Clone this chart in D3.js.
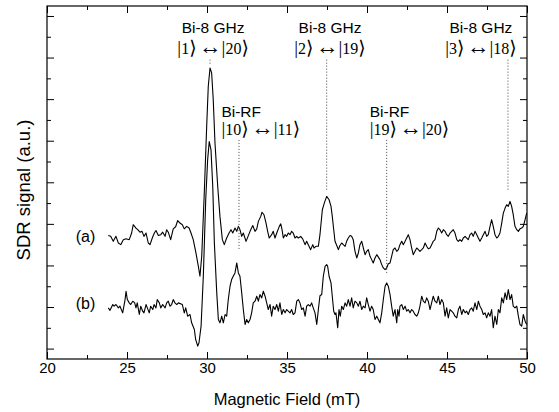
<!DOCTYPE html>
<html>
<head>
<meta charset="utf-8">
<script src="https://cdn.jsdelivr.net/npm/d3@7.9.0/dist/d3.min.js"></script>
<style>
  body { margin: 0; background: #fff; }
  svg { display: block; }
</style>
</head>
<body>
<svg id="chart"></svg>
<script>
// Trace (a): field in mT, signal in arbitrary units
const fieldA = [23.83,23.98,24.14,24.31,24.46,24.61,24.77,24.94,25.14,25.29,25.39,25.56,25.67,25.81,25.94,26.06,26.19,26.33,26.44,26.58,26.71,26.81,26.96,27.11,27.23,27.38,27.48,27.58,27.73,27.89,28.04,28.17,28.31,28.46,28.58,28.73,28.88,29.00,29.14,29.29,29.46,29.56,29.67,29.83,29.98,30.08,30.19,30.29,30.39,30.50,30.67,30.81,30.96,31.08,31.23,31.38,31.50,31.61,31.75,31.86,31.96,32.06,32.17,32.27,32.44,32.69,32.86,33.00,33.11,33.21,33.36,33.44,33.56,33.69,33.79,33.89,34.04,34.14,34.25,34.36,34.52,34.61,34.69,34.77,34.88,34.98,35.08,35.19,35.29,35.39,35.50,35.61,35.71,35.86,35.98,36.13,36.23,36.33,36.48,36.61,36.69,36.81,36.96,37.06,37.13,37.21,37.33,37.48,37.63,37.75,37.83,37.92,38.00,38.11,38.21,38.31,38.42,38.52,38.63,38.73,38.83,38.94,39.04,39.14,39.25,39.36,39.46,39.56,39.67,39.77,39.88,39.98,40.08,40.19,40.29,40.39,40.50,40.61,40.71,40.81,40.92,41.02,41.13,41.23,41.33,41.44,41.54,41.64,41.75,41.86,41.96,42.06,42.17,42.27,42.38,42.48,42.58,42.69,42.79,42.89,43.00,43.11,43.21,43.31,43.42,43.52,43.63,43.73,43.83,43.94,44.04,44.14,44.25,44.36,44.46,44.56,44.67,44.77,44.88,44.98,45.08,45.19,45.29,45.39,45.50,45.61,45.71,45.81,45.92,46.02,46.13,46.23,46.33,46.44,46.54,46.64,46.75,46.86,46.96,47.06,47.17,47.27,47.38,47.48,47.58,47.69,47.79,47.89,48.00,48.11,48.21,48.31,48.42,48.52,48.63,48.73,48.83,48.94,49.04,49.14,49.25,49.36,49.46,49.56,49.67,49.77,49.88,49.98];
const signalA = [27.2,27.0,25.8,27.0,25.4,25.0,26.2,26.4,26.2,27.8,29.8,29.0,28.6,28.0,28.2,27.0,27.8,25.4,25.0,26.6,27.8,28.4,27.2,27.4,28.0,27.0,28.6,28.0,26.2,28.8,29.3,30.8,30.2,29.8,28.8,29.4,29.0,27.8,26.2,23.4,19.8,17.4,22.2,37.4,53.4,63.1,67.5,66.3,59.9,49.4,39.0,31.8,26.2,25.0,26.6,27.8,28.6,27.8,29.0,28.2,29.4,28.6,27.0,27.8,25.8,28.2,29.6,28.2,28.8,30.6,31.8,32.8,32.2,30.2,28.2,26.6,27.4,28.2,26.6,27.8,29.4,30.0,28.6,26.6,27.4,27.0,27.8,27.4,28.2,27.8,26.6,27.0,26.6,27.0,26.4,25.0,25.8,25.0,23.8,25.0,24.2,24.6,24.6,27.4,30.2,33.4,35.0,36.6,35.8,34.2,31.8,28.6,25.8,24.8,23.8,24.8,25.4,25.0,24.6,25.8,26.6,27.2,27.0,26.2,23.4,21.8,23.0,25.0,25.8,24.2,22.6,23.4,23.8,22.2,21.4,20.6,21.8,22.6,22.0,21.4,20.2,19.4,19.0,19.4,20.4,20.6,22.2,23.8,24.2,23.4,23.8,25.0,25.8,25.0,25.8,26.6,27.4,26.2,24.2,22.6,23.4,24.2,23.8,23.4,23.8,24.2,25.4,24.6,24.0,24.2,25.0,25.8,26.2,28.2,29.0,28.6,27.8,28.6,28.2,27.4,27.0,27.8,28.2,28.6,27.8,26.2,25.8,26.2,25.8,26.6,27.0,26.6,26.2,27.4,27.8,27.0,28.2,27.4,26.6,25.8,26.6,27.4,28.2,27.0,27.4,29.4,31.0,29.4,27.4,26.6,27.0,27.8,30.2,32.6,33.8,34.6,34.2,35.4,34.2,32.2,29.4,28.6,28.2,28.8,29.0,29.4,31.0,32.6];

// Trace (b)
const fieldB = [23.83,23.94,24.11,24.19,24.31,24.46,24.56,24.73,24.88,24.94,25.02,25.14,25.23,25.36,25.48,25.56,25.64,25.77,25.86,25.98,26.06,26.19,26.27,26.39,26.48,26.61,26.69,26.81,26.89,27.02,27.11,27.23,27.38,27.48,27.58,27.69,27.79,27.89,28.00,28.11,28.21,28.46,28.58,28.67,28.79,28.94,29.04,29.21,29.29,29.42,29.50,29.63,29.77,29.92,30.04,30.14,30.25,30.36,30.46,30.61,30.71,30.81,30.92,31.02,31.13,31.23,31.33,31.44,31.54,31.64,31.75,31.86,31.96,32.06,32.17,32.27,32.38,32.48,32.58,32.69,32.79,32.89,33.00,33.11,33.21,33.31,33.42,33.52,33.63,33.73,33.83,33.94,34.04,34.14,34.25,34.36,34.46,34.56,34.67,34.77,34.88,34.98,35.08,35.19,35.29,35.39,35.50,35.61,35.71,35.81,35.92,36.02,36.13,36.23,36.33,36.44,36.54,36.64,36.75,36.86,36.96,37.06,37.17,37.27,37.38,37.48,37.54,37.63,37.75,37.83,37.92,38.00,38.06,38.17,38.25,38.33,38.42,38.52,38.63,38.73,38.83,38.94,39.04,39.14,39.25,39.36,39.46,39.56,39.67,39.77,39.88,39.98,40.08,40.19,40.29,40.39,40.50,40.61,40.71,40.81,40.92,41.02,41.13,41.23,41.33,41.44,41.54,41.64,41.75,41.86,41.92,42.00,42.06,42.17,42.27,42.38,42.48,42.58,42.69,42.79,42.89,43.00,43.11,43.21,43.31,43.42,43.52,43.63,43.73,43.83,43.94,44.04,44.14,44.25,44.36,44.46,44.56,44.67,44.77,44.88,44.98,45.08,45.19,45.29,45.39,45.50,45.61,45.71,45.81,45.92,46.02,46.13,46.23,46.33,46.44,46.54,46.64,46.75,46.86,46.96,47.06,47.17,47.27,47.38,47.48,47.58,47.69,47.79,47.89,48.00,48.11,48.21,48.31,48.42,48.52,48.63,48.73,48.83,48.94,49.04,49.14,49.25,49.36,49.46,49.56,49.67,49.77,49.88,49.98];
const signalB = [9.8,9.2,10.6,10.2,10.6,9.8,10.2,8.6,11.8,13.8,11.8,11.0,10.6,11.4,11.0,9.8,11.0,8.2,10.2,9.0,8.6,10.6,9.8,8.6,10.2,9.4,10.6,9.8,11.8,11.0,9.8,10.6,9.8,11.0,11.4,10.2,10.6,11.8,11.0,10.6,11.0,10.6,8.6,9.8,7.8,8.2,6.2,4.6,2.2,0.6,1.4,5.4,17.4,35.8,45.4,49.8,47.8,39.0,25.4,13.4,7.0,6.2,7.8,6.2,8.2,7.8,11.8,15.0,16.6,17.4,18.2,20.6,18.2,17.4,13.4,9.4,5.8,7.0,6.2,7.0,8.6,11.0,11.4,12.6,11.4,13.0,12.2,13.8,12.6,11.0,9.4,10.6,7.8,10.2,9.4,10.6,9.0,11.0,8.2,9.4,8.6,9.4,9.0,8.6,9.4,8.2,8.6,11.4,11.8,11.0,9.4,9.8,7.8,10.2,10.6,10.2,11.0,9.8,8.6,5.8,9.4,12.7,13.0,17.4,19.8,20.2,19.8,17.4,15.8,12.6,9.0,8.2,8.6,5.0,9.4,7.8,10.2,9.4,11.0,10.2,11.8,10.2,12.2,9.8,11.4,11.0,10.2,11.4,9.4,10.2,9.8,12.2,10.6,9.0,10.2,9.4,7.0,7.8,7.0,6.2,8.6,11.8,15.0,15.8,15.0,13.0,10.2,7.8,9.4,6.2,9.4,7.8,10.2,10.6,9.4,10.2,9.0,9.4,8.6,9.4,9.0,8.2,7.8,8.6,10.2,12.6,11.4,11.0,12.2,11.4,9.4,11.0,12.6,11.4,11.0,12.6,10.6,11.8,11.0,7.8,9.8,7.4,9.4,9.0,8.6,7.8,7.4,9.4,10.2,8.2,9.4,8.6,9.0,8.2,9.4,9.8,9.0,11.0,9.4,11.4,10.2,9.4,8.2,8.6,7.4,8.6,7.8,9.4,5.0,7.8,5.8,9.4,8.6,12.2,11.0,13.4,11.8,14.2,11.8,13.0,10.2,9.8,10.2,7.8,5.8,5.4,8.2,6.6,5.8];

const xMajor = [20, 25, 30, 35, 40, 45, 50];
const xMinor = [22.5, 27.5, 32.5, 37.5, 42.5, 47.5];
const yMajor = [0, 10, 20, 30, 40, 50, 60, 70, 80];
const yMinor = [5, 15, 25, 35, 45, 55, 65, 75];

// Transition labels: field of the line, kets, line span in signal units
const transitions = [
  { name: "Bi-8 GHz", ket: ["1", "20"], field: 30.19, lineTop: 69.5, lineBottom: 68.2, textX: 30.38, anchor: "middle", nameY: 76.0, ketY: 70.9 },
  { name: "Bi-RF", ket: ["10", "11"], field: 32.0, lineTop: 50.2, lineBottom: 23.8, textX: 30.90, anchor: "start", nameY: 55.8, ketY: 51.4 },
  { name: "Bi-8 GHz", ket: ["2", "19"], field: 37.48, lineTop: 69.5, lineBottom: 38.2, textX: 37.69, anchor: "middle", nameY: 76.0, ketY: 70.9 },
  { name: "Bi-8 GHz", ket: ["3", "18"], field: 48.81, lineTop: 69.5, lineBottom: 38.2, textX: 47.12, anchor: "middle", nameY: 76.0, ketY: 70.9 },
  { name: "Bi-RF", ket: ["19", "20"], field: 41.23, lineTop: 50.2, lineBottom: 17.8, textX: 40.17, anchor: "start", nameY: 55.8, ketY: 51.4 }
];

const margin = { top: 6, right: 32, bottom: 53, left: 47 };
const W = 559, H = 412;
const width = W - margin.left - margin.right;
const height = H - margin.top - margin.bottom;

const svg = d3.select("#chart").attr("width", W).attr("height", H);
const g = svg.append("g").attr("transform", `translate(${margin.left},${margin.top})`);

const x = d3.scaleLinear().domain([20, 50]).range([0, width]);
const y = d3.scaleLinear().domain([-2.5, 82.4]).range([height, 0]);

const sans = "Liberation Sans, Arial, Helvetica, sans-serif";
const serif = "Liberation Serif, Times New Roman, DejaVu Serif, serif";

// axes: ticks point inward, labels only on the bottom
function styleAxis(sel) {
  sel.select(".domain").remove();
  sel.selectAll("line").attr("stroke", "#000").attr("stroke-width", 1);
  sel.selectAll("text").attr("fill", "#000").style("font-family", sans).style("font-size", "15px");
}
g.append("g").attr("transform", `translate(0,${height})`)
  .call(d3.axisBottom(x).tickValues(xMajor).tickSize(-7).tickPadding(3).tickFormat(d3.format("d")))
  .call(styleAxis);
g.append("g").attr("transform", `translate(0,${height})`)
  .call(d3.axisBottom(x).tickValues(xMinor).tickSize(-4).tickFormat(""))
  .call(styleAxis);
g.append("g")
  .call(d3.axisTop(x).tickValues(xMajor).tickSize(-7).tickFormat(""))
  .call(styleAxis);
g.append("g")
  .call(d3.axisTop(x).tickValues(xMinor).tickSize(-4).tickFormat(""))
  .call(styleAxis);
g.append("g")
  .call(d3.axisLeft(y).tickValues(yMajor).tickSize(-7).tickFormat(""))
  .call(styleAxis);
g.append("g")
  .call(d3.axisLeft(y).tickValues(yMinor).tickSize(-4).tickFormat(""))
  .call(styleAxis);
g.append("g").attr("transform", `translate(${width},0)`)
  .call(d3.axisRight(y).tickValues(yMajor).tickSize(-7).tickFormat(""))
  .call(styleAxis);
g.append("g").attr("transform", `translate(${width},0)`)
  .call(d3.axisRight(y).tickValues(yMinor).tickSize(-4).tickFormat(""))
  .call(styleAxis);

g.append("rect")
  .attr("width", width).attr("height", height)
  .attr("fill", "none").attr("stroke", "#000").attr("stroke-width", 1.2);

// traces
const line = d3.line().x(d => x(d[0])).y(d => y(d[1]));
const traces = [
  { label: "(a)", field: fieldA, signal: signalA },
  { label: "(b)", field: fieldB, signal: signalB }
];
traces.forEach(t => {
  const pts = t.field.map((f, i) => [f, t.signal[i]]);
  g.append("path").datum(pts)
    .attr("d", line)
    .attr("fill", "none")
    .attr("stroke", "#000")
    .attr("stroke-width", 1.1)
    .attr("stroke-linejoin", "round");
  g.append("text")
    .attr("x", x(t.field[0]) - 13)
    .attr("y", y(d3.mean(t.signal.slice(0, 12))) + 5)
    .attr("text-anchor", "end")
    .style("font-family", sans).style("font-size", "16px")
    .text(t.label);
});

// ket |n> with tall bar and bracket
function ket(sel, n) {
  sel.append("tspan").style("font-size", "19px").text("|");
  sel.append("tspan").text(n);
  sel.append("tspan").style("font-size", "19px").text("\u27E9");
}

// transition markers
transitions.forEach(tr => {
  g.append("line")
    .attr("x1", x(tr.field)).attr("x2", x(tr.field))
    .attr("y1", y(tr.lineTop)).attr("y2", y(tr.lineBottom))
    .attr("stroke", "#444").attr("stroke-width", 1)
    .attr("stroke-dasharray", "1,2");
  g.append("text")
    .attr("x", x(tr.textX)).attr("y", y(tr.nameY))
    .attr("text-anchor", tr.anchor)
    .style("font-family", sans).style("font-size", "15.5px")
    .text(tr.name);
  const k = g.append("text")
    .attr("x", x(tr.textX)).attr("y", y(tr.ketY))
    .attr("text-anchor", tr.anchor)
    .style("font-family", serif).style("font-size", "16px");
  ket(k, tr.ket[0]);
  k.append("tspan").attr("dx", 2).style("font-size", "23px").text("\u2194");
  k.append("tspan").attr("dx", 2).text("");
  ket(k, tr.ket[1]);
});

// axis titles
svg.append("text")
  .attr("x", margin.left + width / 2).attr("y", 405)
  .attr("text-anchor", "middle")
  .style("font-family", sans).style("font-size", "16.5px")
  .text("Magnetic Field (mT)");
svg.append("text")
  .attr("transform", `translate(30,190) rotate(-90)`)
  .attr("text-anchor", "middle")
  .style("font-family", sans).style("font-size", "18.5px")
  .text("SDR signal (a.u.)");
</script>
</body>
</html>
